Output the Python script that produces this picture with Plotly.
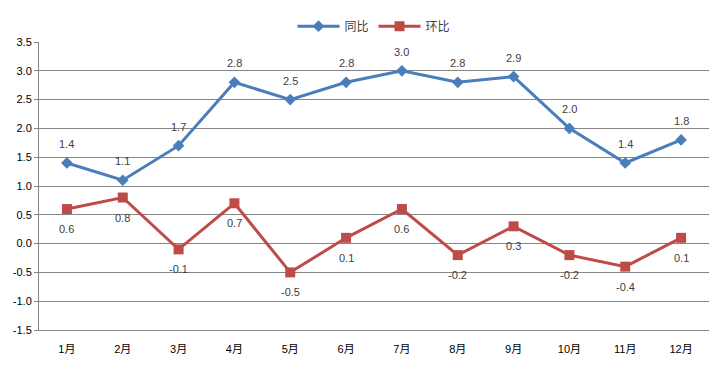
import plotly.graph_objects as go

months = ["1月", "2月", "3月", "4月", "5月", "6月", "7月", "8月", "9月", "10月", "11月", "12月"]
yoy = [1.4, 1.1, 1.7, 2.8, 2.5, 2.8, 3.0, 2.8, 2.9, 2.0, 1.4, 1.8]
mom = [0.6, 0.8, -0.1, 0.7, -0.5, 0.1, 0.6, -0.2, 0.3, -0.2, -0.4, 0.1]
y_ticks = [-1.5, -1.0, -0.5, 0.0, 0.5, 1.0, 1.5, 2.0, 2.5, 3.0, 3.5]

font_family = "Liberation Sans, Noto Sans CJK SC, sans-serif"

fig = go.Figure()
fig.add_trace(go.Scatter(
    x=months, y=yoy, name="同比", mode="lines+markers",
    line=dict(color="#4a7ebb", width=3),
    marker=dict(symbol="diamond", size=9, color="#4a7ebb"),
))
fig.add_trace(go.Scatter(
    x=months, y=mom, name="环比", mode="lines+markers",
    line=dict(color="#be4b48", width=3),
    marker=dict(symbol="square", size=10, color="#be4b48"),
))

for m, v in zip(months, yoy):
    fig.add_annotation(x=m, y=v, text=f"{v:.1f}", showarrow=False, yshift=19,
                       font=dict(size=11, color="#404040"))
for m, v in zip(months, mom):
    fig.add_annotation(x=m, y=v, text=f"{v:.1f}", showarrow=False, yshift=-20,
                       font=dict(size=11, color="#404040"))

fig.update_layout(
    width=720, height=365,
    margin=dict(l=31, r=19, t=34, b=43, autoexpand=False),
    paper_bgcolor="white", plot_bgcolor="white",
    font=dict(family=font_family, size=11, color="#404040"),
    showlegend=True,
    legend=dict(orientation="h", x=0.5, xanchor="center", y=0.99, yanchor="top",
                yref="container", font=dict(size=12, color="#404040"),
                itemwidth=42, traceorder="normal", tracegroupgap=0),
    xaxis=dict(
        type="category", range=[-0.5, 11.5], showgrid=False,
        showline=True, linecolor="#868686", linewidth=1,
        ticks="outside", ticklen=9, tickcolor="rgba(0,0,0,0)",
        tickfont=dict(size=11, color="#000000"),
    ),
    yaxis=dict(
        range=[-1.5, 3.5], tickvals=y_ticks,
        ticktext=[f"{v:.1f}" for v in y_ticks],
        showgrid=True, gridcolor="#868686", gridwidth=1,
        showline=True, linecolor="#868686", linewidth=1,
        ticks="outside", ticklen=4, tickcolor="#868686",
        zeroline=False, tickfont=dict(size=11, color="#000000"),
    ),
)

fig.write_html("out.html")
